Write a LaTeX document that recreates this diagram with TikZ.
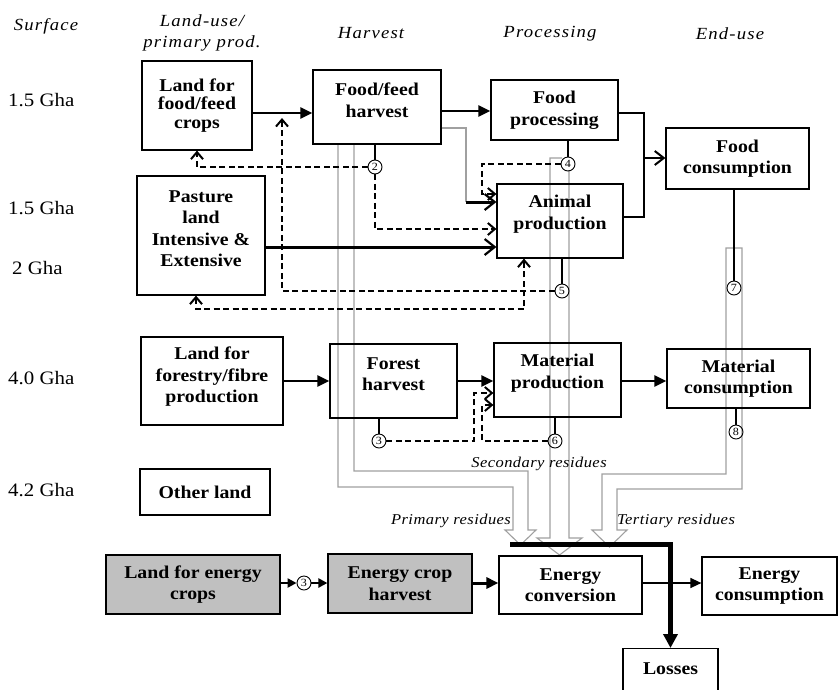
\documentclass[tikz,border=0pt]{standalone}
\usepackage{fontspec}
\setmainfont{Liberation Serif}[FakeStretch=1.1]
\newfontfamily\hdrfont{Liberation Serif}[FakeStretch=1.1,LetterSpace=7]
\newfontfamily\resfont{Liberation Serif}[FakeStretch=1.1,LetterSpace=3]
\usetikzlibrary{arrows.meta}
\definecolor{boxgray}{HTML}{C0C0C0}
\definecolor{pipegray}{HTML}{A0A0A0}
\begin{document}
\begin{tikzpicture}[x=1pt,y=-1pt,
  box/.style={draw, line width=1.2pt, inner sep=0pt},
  boxlbl/.style={align=center, font=\bfseries\fontsize{18}{21.5}\selectfont, inner sep=0pt},
  hdr/.style={font=\hdrfont\itshape\fontsize{17}{21}\selectfont, inner sep=0pt},
  rowlbl/.style={font=\fontsize{19}{20}\selectfont, anchor=west, inner sep=0pt},
  reslbl/.style={font=\resfont\itshape\fontsize{15}{18}\selectfont, inner sep=0pt},
  numc/.style={circle, draw, line width=0.9pt, minimum size=14pt, inner sep=0pt, font=\fontsize{11}{11}\selectfont},
  flow/.style={line width=2.4pt, -{Triangle[length=12pt,width=11pt]}},
  flowthin/.style={line width=1.4pt, -{Triangle[length=11pt,width=10pt]}},
  flowthick/.style={line width=3pt, -{Triangle[length=12pt,width=11pt]}},
  openflow/.style={line width=3pt, -{Straight Barb[length=10pt,width=16pt,line width=2.2pt]}},
  openthin/.style={line width=1.4pt, -{Straight Barb[length=9pt,width=14pt,line width=2pt]}},
  thinline/.style={line width=1.1pt},
  dashar/.style={line width=2.3pt, dash pattern=on 6pt off 3.5pt, -{Straight Barb[length=7pt,width=12pt,line width=2pt]}},
  dashboth/.style={line width=2.3pt, dash pattern=on 6pt off 3.5pt, {Straight Barb[length=7pt,width=12pt,line width=2pt]}-{Straight Barb[length=7pt,width=12pt,line width=2pt]}},
  pipe/.style={draw=pipegray, line width=1.1pt},
  collector/.style={line width=5pt, -{Triangle[length=14pt,width=14pt]}}
]
\useasboundingbox (0,0) rectangle (838,689);

% headers
\node[hdr] (hsurf) at (46,26) {Surface};
\node[hdr, align=center] (hland) at (202,33) {Land-use/\\primary prod.};
\node[hdr] (hharv) at (371,33) {Harvest};
\node[hdr] (hproc) at (550,34) {Processing};
\node[hdr] (hend) at (730,34) {End-use};

% row labels
\node[rowlbl] (r1) at (8,100) {1.5 Gha};
\node[rowlbl] (r2) at (8,208) {1.5 Gha};
\node[rowlbl] (r3) at (12,268) {2 Gha};
\node[rowlbl] (r4) at (8,378) {4.0 Gha};
\node[rowlbl] (r5) at (8,490) {4.2 Gha};

% gray residue pipes
\draw[pipe] (338,144) -- (338,487) -- (513,487) -- (513,530) -- (505,530) -- (520.5,545) -- (536,530) -- (528,530) -- (528,471) -- (354,471) -- (354,144);
\draw[pipe] (562,158) -- (550,158) -- (550,538) -- (537,538) -- (559.5,555) -- (582,538) -- (569,538) -- (569,170);
\draw[pipe] (742,248) -- (726,248) -- (726,474) -- (602,474) -- (602,530) -- (592,530) -- (609.5,547) -- (627,530) -- (617,530) -- (617,489) -- (742,489) -- cycle;

% boxes
\node[box, minimum width=110, minimum height=89, label={[boxlbl, font=\bfseries\fontsize{18}{18.5}\selectfont]center:{Land for\\food/feed\\crops}}] (lfood) at (197,105.5) {};
\node[box, minimum width=128, minimum height=74, label={[boxlbl, yshift=7]center:{Food/feed\\harvest}}] (ffh) at (377,107) {};
\node[box, minimum width=127, minimum height=60, label={[boxlbl]center:{Food\\processing}}] (fproc) at (554.5,110) {};
\node[box, minimum width=143, minimum height=61, label={[boxlbl]center:{Food\\consumption}}] (fcons) at (737.5,158.5) {};
\node[box, minimum width=128, minimum height=119, label={[boxlbl, yshift=7]center:{Pasture\\land\\Intensive \&\\Extensive}}] (past) at (201,235.5) {};
\node[box, minimum width=126, minimum height=74, label={[boxlbl, yshift=7]center:{Animal\\production}}] (anim) at (560,221) {};
\node[box, minimum width=142, minimum height=88, label={[boxlbl, yshift=4]center:{Land for\\forestry/fibre\\production}}] (lforest) at (212,381) {};
\node[box, minimum width=127, minimum height=74, label={[boxlbl, yshift=7]center:{Forest\\harvest}}] (fharv) at (393.5,381) {};
\node[box, minimum width=127, minimum height=74, label={[boxlbl, yshift=7]center:{Material\\production}}] (matp) at (557.5,380) {};
\node[box, minimum width=143, minimum height=59, label={[boxlbl]center:{Material\\consumption}}] (matc) at (738.5,378.5) {};
\node[box, minimum width=130, minimum height=46, label={[boxlbl]center:{Other land}}] (other) at (205,492) {};
\node[box, fill=boxgray, minimum width=174, minimum height=59, label={[boxlbl]center:{Land for energy\\crops}}] (lenergy) at (193,584.5) {};
\node[box, fill=boxgray, minimum width=144, minimum height=59, label={[boxlbl]center:{Energy crop\\harvest}}] (ech) at (400,583.5) {};
\node[box, minimum width=143, minimum height=58, label={[boxlbl]center:{Energy\\conversion}}] (econv) at (570.5,585) {};
\node[box, minimum width=135, minimum height=58, label={[boxlbl]center:{Energy\\consumption}}] (econs) at (769.5,586) {};
\node[box, anchor=north, minimum width=95, minimum height=60, label={[boxlbl, yshift=10]center:{Losses}}] (losses) at (670.5,648) {};

% numbered circles
\node[numc] (c2) at (375,167) {2};
\node[numc] (c4) at (568,164) {4};
\node[numc] (c5) at (562,291) {5};
\node[numc] (c7) at (734,288) {7};
\node[numc] (c3a) at (379,441) {3};
\node[numc] (c6) at (555,441) {6};
\node[numc] (c8) at (736,432) {8};
\node[numc] (c3b) at (304,583) {3};

% residue labels
\node[reslbl] (lsec) at (539,464) {Secondary residues};
\node[reslbl] (lpri) at (451,521) {Primary residues};
\node[reslbl] (lter) at (676,521) {Tertiary residues};

% main solid flows
\draw[flow] (lfood.east |- 0,113) -- (ffh.west |- 0,113);
\draw[flow] (ffh.east |- 0,111) -- (fproc.west |- 0,111);
\draw[openflow] (past.east |- 0,247) -- (anim.west |- 0,247);
\draw[pipe] (ffh.east |- 0,128) -- (466,128) -- (466,202);
\coordinate (fj) at (466,202);
\draw[openflow] (fj) -- (anim.west |- fj);
\draw[thinline] (fproc.east |- 0,113) -- (644,113) -- (644,217) -- (anim.east |- 0,217);
\coordinate (fj2) at (644,158);
\draw[openthin] (fj2) -- (fcons.west |- fj2);
\draw[flow] (lforest.east |- 0,381) -- (fharv.west |- 0,381);
\draw[flow] (fharv.east |- 0,381) -- (matp.west |- 0,381);
\draw[flow] (matp.east |- 0,381) -- (matc.west |- 0,381);
\draw[flow, -{Triangle[length=9pt,width=9pt]}] (lenergy.east |- 0,583) -- (c3b.west);
\draw[flow, -{Triangle[length=9pt,width=9pt]}] (c3b.east) -- (ech.west |- 0,583);
\draw[flowthick] (ech.east |- 0,583) -- (econv.west |- 0,583);
\draw[flowthin] (econv.east |- 0,583) -- (econs.west |- 0,583);

% residue collector
\coordinate (rc) at (510,544);
\draw[collector] (rc) -| (losses.north);

% thin lines to circles
\draw[thinline] (c2 |- ffh.south) -- (c2.north);
\draw[thinline] (c4 |- fproc.south) -- (c4.north);
\draw[thinline] (c5 |- anim.south) -- (c5.north);
\draw[thinline] (c7 |- fcons.south) -- (c7.north);
\draw[thinline] (c3a |- fharv.south) -- (c3a.north);
\draw[thinline] (c6 |- matp.south) -- (c6.north);
\draw[thinline] (c8 |- matc.south) -- (c8.north);

% dashed recycling flows
\draw[dashar] (c2.west) -| (lfood.south);
\draw[dashar] (c2.south) |- (anim.west |- 0,229);
\coordinate (c5tip) at (282,118);
\draw[dashar] (c5.west) -| (c5tip);
\draw[dashboth] ([xshift=-5]past.south) |- (524,309) -- (anim.south -| 524,0);
\draw[dashar] (c4.west) -| (482,194) -- (anim.west |- 0,194);
\draw[dashar] (c3a.east) -| (474,393) -- (matp.west |- 0,393);
\draw[dashar] (c6.west) -| (482,405) -- (matp.west |- 0,405);
\end{tikzpicture}
\end{document}
